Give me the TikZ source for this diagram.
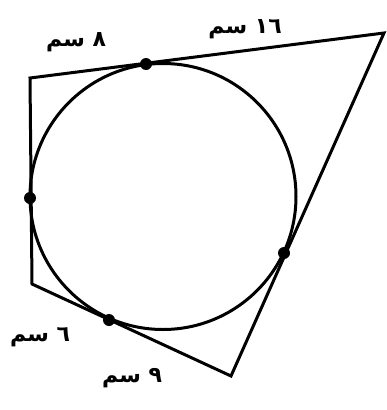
\documentclass[tikz,border=0pt]{standalone}
\usepackage{fontspec}
\newfontfamily\arabicfont[Script=Arabic]{DejaVu Sans}
\TeXXeTstate=1
\usetikzlibrary{calc}

\begin{document}
\begin{tikzpicture}[
    x=1pt, y=-1pt,
    side/.style={line width=3pt, line join=miter},
    circ/.style={line width=3pt},
    touch/.style={circle, fill=black, inner sep=0pt, minimum size=12pt},
    lbl/.style={font=\arabicfont\fontsize{22}{26}\selectfont\bfseries, inner sep=0pt}
]
    \useasboundingbox (0,0) rectangle (387,410);

    % رؤوس الشكل الرباعي
    \coordinate (tl) at (30,78);
    \coordinate (tr) at (384,33);
    \coordinate (br) at (231,376);
    \coordinate (bl) at (32,284);

    % الدائرة
    \coordinate (o) at (163,196.5);
    \draw[circ] (o) circle[radius=133];

    % الأضلاع
    \draw[side] (tl) -- (tr) -- (br) -- (bl) -- cycle;

    % نقاط التماس
    \node[touch] (ttop) at (146,64) {};
    \node[touch] (tleft) at (30,198) {};
    \node[touch] (tright) at (284,253) {};
    \node[touch] (tbot) at (109,320) {};

    % الأطوال
    \node[lbl] (l8) at (76,42) {\beginR ٨ سم\endR};
    \node[lbl] (l16) at (245,29) {\beginR\beginL ١٦\endL{} سم\endR};
    \node[lbl] (l6) at (40,337) {\beginR ٦ سم\endR};
    \node[lbl] (l9) at (132,378) {\beginR ٩ سم\endR};
\end{tikzpicture}
\end{document}
